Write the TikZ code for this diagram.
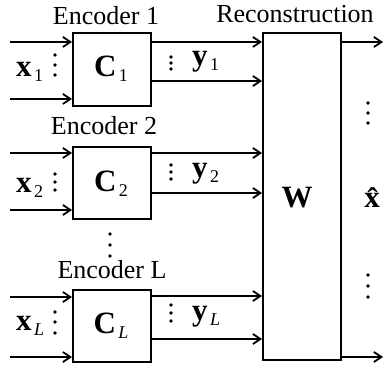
\documentclass[tikz,border=0pt]{standalone}
\usepackage{fontspec}
\setmainfont{Liberation Serif}
\usetikzlibrary{arrows.meta}
\newcommand{\subs}[1]{\hspace{2.5pt}\raisebox{-5pt}{\fontsize{18}{18}\selectfont #1}}
\newcommand{\bb}[1]{{\fontsize{31}{31}\selectfont\bfseries #1}}
\begin{document}
\begin{tikzpicture}[x=1pt,y=-1pt,
  box/.style={draw,line width=2pt,minimum width=78pt,inner sep=0pt},
  arr/.style={line width=1.8pt,-{Straight Barb[length=7.5pt,width=10pt,line width=1.8pt]}},
  lbl/.style={font=\fontsize{26}{26}\selectfont,inner sep=0pt,anchor=base},
  dot/.style={fill=black,draw=none,circle,inner sep=0pt,minimum size=3.8pt}]
\useasboundingbox (0,0) rectangle (385,371);
% boxes
\node[box,minimum height=73pt] (c1) at (112,69.5) {};
\node[box,minimum height=72pt] (c2) at (112,183) {};
\node[box,minimum height=72pt] (cL) at (112,326) {};
\node[box,minimum height=327pt] (W) at (302,196.5) {};
% titles
\node[lbl] (t1) at (106,25) {Encoder 1};
\node[lbl] (t2) at (104,135) {Encoder 2};
\node[lbl] (tL) at (112,278) {Encoder L};
\node[lbl] (tR) at (295,23) {Reconstruction};
% inputs
\foreach \n/\ya/\yb in {c1/42/99, c2/153/210, cL/297/357}{
  \coordinate (\n-ia) at (10,\ya);
  \coordinate (\n-ib) at (10,\yb);
  \draw[arr] (\n-ia) -- (\n.west |- \n-ia);
  \draw[arr] (\n-ib) -- (\n.west |- \n-ib);
}
% outputs to W
\foreach \n/\ya/\yb in {c1/42/81, c2/153/193, cL/296/339}{
  \coordinate (\n-oa) at (151,\ya);
  \coordinate (\n-ob) at (151,\yb);
  \draw[arr] (\n.east |- \n-oa) -- (W.west |- \n-oa);
  \draw[arr] (\n.east |- \n-ob) -- (W.west |- \n-ob);
}
% W outputs
\coordinate (oa) at (383,42);
\coordinate (ob) at (383,357);
\draw[arr] (W.east |- oa) -- (oa);
\draw[arr] (W.east |- ob) -- (ob);
% labels
\node[lbl,anchor=base west] (x1) at (16,77) {\bb{x}\subs{1}};
\node[lbl,anchor=base west] (x2) at (16,193) {\bb{x}\subs{2}};
\node[lbl,anchor=base west] (xL) at (16,330) {\bb{x}\subs{\textit{L}}};
\node[lbl] (C1) at (111,77) {\bb{C}\subs{1}};
\node[lbl] (C2) at (111,192) {\bb{C}\subs{2}};
\node[lbl] (CL) at (111,333) {\bb{C}\subs{\textit{L}}};
\node[lbl,anchor=base west] (y1) at (192,66) {\bb{y}\subs{1}};
\node[lbl,anchor=base west] (y2) at (192,178) {\bb{y}\subs{2}};
\node[lbl,anchor=base west] (yL) at (192,320) {\bb{y}\subs{\textit{L}}};
\node[lbl] (Wl) at (297,208) {\bb{W}};
\node[lbl] (xh) at (372,208) {\bb{\^{x}}};
% dots
\foreach \x/\ys in {55/{55,65,75}, 55/{174,182,190}, 55/{312,322,333},
                   171/{57,63,69}, 171/{165,172,179}, 171/{305,313,321},
                   110/{234,245,256}, 368/{103,113,123}, 368/{275,286,297}}{
  \foreach \y in \ys { \node[dot] at (\x,\y) {}; }
}
\end{tikzpicture}
\end{document}
